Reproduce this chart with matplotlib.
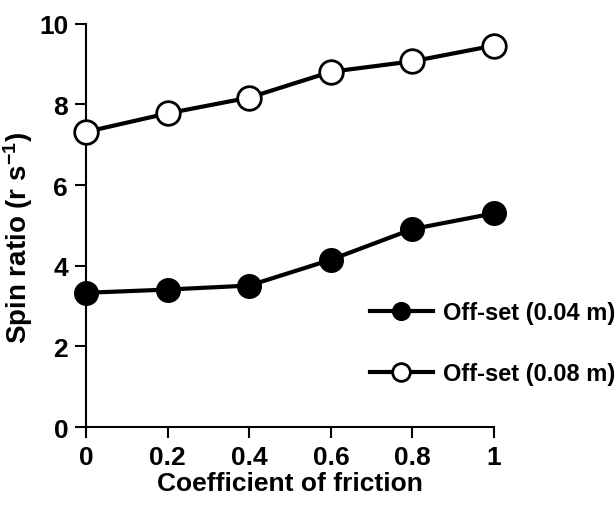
import matplotlib
matplotlib.use('Agg')
from matplotlib import pyplot as plt

friction = [0, 0.2, 0.4, 0.6, 0.8, 1.0]
offset_004 = [3.33, 3.41, 3.51, 4.15, 4.91, 5.30]
offset_008 = [7.32, 7.78, 8.17, 8.81, 9.07, 9.46]
labels = ['Off-set (0.04 m)', 'Off-set (0.08 m)']
x_ticks = [0, 0.2, 0.4, 0.6, 0.8, 1]
x_tick_labels = ['0', '0.2', '0.4', '0.6', '0.8', '1']
y_ticks = [0, 2, 4, 6, 8, 10]

plt.rcParams['font.family'] = ['Liberation Sans', 'DejaVu Sans']
plt.rcParams['font.weight'] = 'bold'
plt.rcParams['mathtext.fontset'] = 'custom'
plt.rcParams['mathtext.bf'] = 'Liberation Sans:bold'
plt.rcParams['mathtext.rm'] = 'Liberation Sans:bold'
plt.rcParams['mathtext.default'] = 'bf'

fig = plt.figure(figsize=(6.16, 5.06), dpi=100)
ax = fig.add_axes([0.14, 0.154, 0.662, 0.797])

ax.plot(friction, offset_004, '-o', color='black', lw=3, ms=17,
        mfc='black', mec='black', clip_on=False, zorder=3, label=labels[0])
ax.plot(friction, offset_008, '-o', color='black', lw=3, ms=17,
        mfc='white', mec='black', mew=2, clip_on=False, zorder=3, label=labels[1])

ax.set_xlim(0, 1)
ax.set_ylim(0, 10)
ax.set_xticks(x_ticks)
ax.set_xticklabels(x_tick_labels)
ax.set_yticks(y_ticks)
ax.tick_params(direction='out', length=8, width=1.5, labelsize=19, pad=5)
for s in ['top', 'right']:
    ax.spines[s].set_visible(False)
for s in ['left', 'bottom']:
    ax.spines[s].set_linewidth(1.5)

ax.set_xlabel('Coefficient of friction', fontsize=19, fontweight='bold', labelpad=1)
ax.set_ylabel('Spin ratio (r s$^{-1}$)', fontsize=20, fontweight='bold')
ax.yaxis.set_label_coords(-0.125, 0.47)

leg = fig.legend(loc='center left', bbox_to_anchor=(0.6, 0.32), frameon=False,
                 fontsize=17, handlelength=2.7, markerscale=0.75,
                 labelspacing=1.6, handletextpad=0.4, borderpad=0, borderaxespad=0)

fig.savefig('out.png', dpi=100)
